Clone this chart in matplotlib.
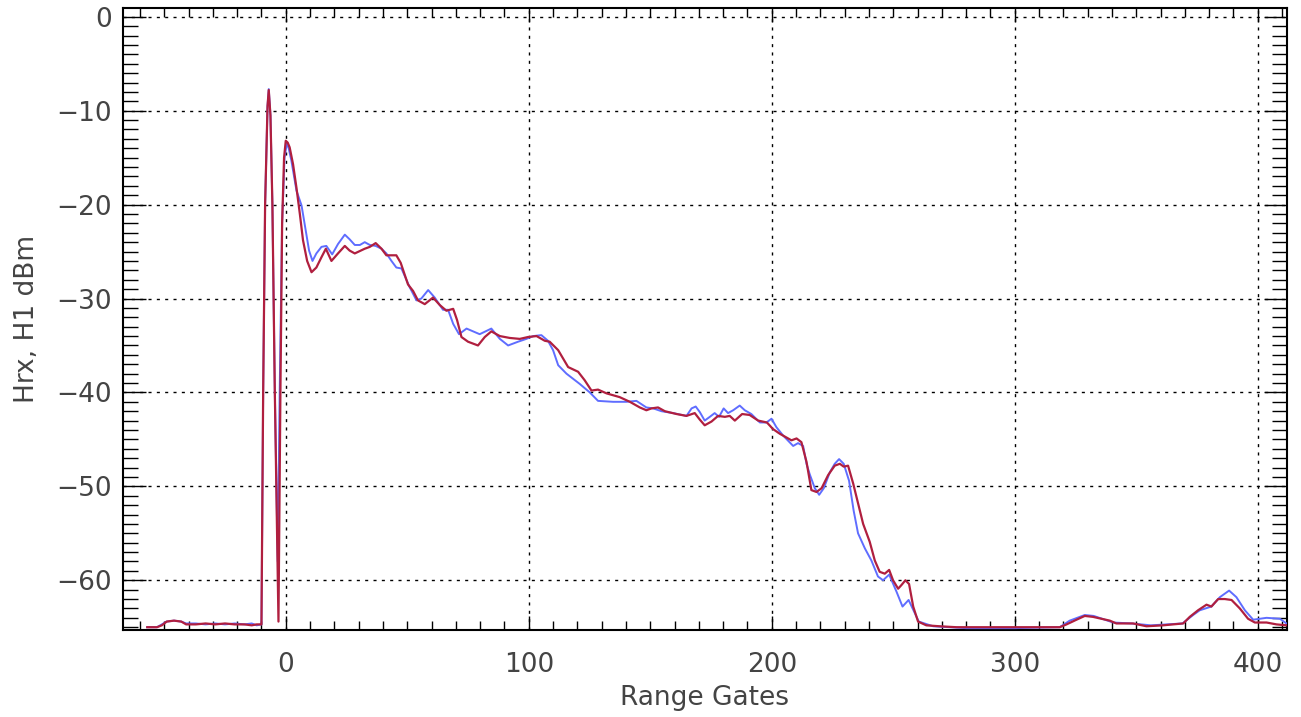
import matplotlib
matplotlib.use('Agg')
import matplotlib.pyplot as plt
from matplotlib.ticker import MultipleLocator, FuncFormatter

# Two receiver traces (range gate, dBm)
gates_blue = [-57, -53, -51, -49, -46, -43, -41, -37, -33, -29, -25, -21, -17,
              -14, -12, -10, -9.3, -8.5, -7.5, -7.0, -6.3, -5.5, -4.5, -3.3,
              -2.5, -1.5, -0.5, 0.5, 1.2, 2.3, 4.4, 6.5, 7.8, 9.6, 11.0, 12.6,
              14.7, 16.7, 19.1, 21.5, 24.3, 26.3, 28.4, 30.5, 32.5, 34.6, 37.0,
              39.4, 41.4, 43.5, 45.5, 47.6, 51.0, 53.8, 55.8, 58.6, 61.3, 64.7,
              66.8, 68.9, 71.3, 74.4, 79.8, 84.6, 88.1, 91.5, 95.6, 99.0, 101.8,
              105.2, 107.9, 110.0, 112.1, 115.5, 121.0, 125.1, 128.5, 134.7,
              140.2, 144.3, 148.4, 151.2, 154.6, 159.4, 164.9, 167.0, 168.7,
              170.4, 172.4, 174.5, 176.5, 178.3, 180.2, 182.0, 184.1, 186.8,
              188.9, 191.6, 195.1, 197.8, 199.9, 201.9, 204.7, 208.8, 210.8,
              212.9, 214.3, 215.6, 217.7, 219.5, 221.4, 223.9, 225.9, 227.7,
              229.6, 231.8, 233.7, 235.5, 238.3, 241.0, 243.7, 245.8, 248.3,
              251.3, 253.8, 256.3, 258.5, 260.5, 266.4, 280, 300, 318.5, 322.6,
              328.8, 332.5, 340.5, 348, 356, 369, 373.4, 376.1, 380.9, 384.4,
              388.2, 391.2, 394.7, 398.1, 400.8, 403.6, 409.1, 411.8]
hrx_blue = [-65.0, -65.0, -64.7, -64.4, -64.3, -64.4, -64.6, -64.6, -64.7,
            -64.6, -64.7, -64.6, -64.7, -64.6, -64.8, -64.7, -40, -20, -9.5,
            -7.7, -10.5, -20, -40, -58, -40, -22, -15, -13.4, -14.0, -15.3,
            -18.5, -20.1, -22.1, -24.9, -26.0, -25.2, -24.5, -24.4, -25.3,
            -24.2, -23.2, -23.7, -24.3, -24.3, -24.0, -24.3, -24.4, -24.7,
            -25.2, -26.0, -26.7, -26.8, -28.8, -30.2, -30.0, -29.1, -29.9,
            -31.2, -31.2, -32.7, -33.8, -33.2, -33.8, -33.2, -34.3, -35.0,
            -34.6, -34.3, -34.0, -33.9, -34.5, -35.5, -37.1, -38.0, -39.1,
            -40.0, -40.9, -41.0, -41.0, -40.9, -41.6, -41.7, -42.0, -42.2,
            -42.5, -41.7, -41.5, -42.1, -43.0, -42.6, -42.2, -42.6, -41.7,
            -42.2, -41.9, -41.4, -41.9, -42.3, -43.2, -43.2, -42.8, -43.7,
            -44.6, -45.7, -45.4, -45.7, -47.6, -48.7, -50.2, -50.9, -50.2,
            -48.5, -47.6, -47.1, -47.6, -49.4, -52.6, -55.0, -56.6, -57.9,
            -59.6, -60.0, -59.4, -61.2, -62.8, -62.1, -63.3, -64.4, -64.9,
            -65.1, -65.1, -65.0, -64.3, -63.7, -63.8, -64.5, -64.6, -64.8,
            -64.6, -63.7, -63.2, -62.8, -61.8, -61.1, -61.8, -63.2, -64.2,
            -64.1, -64.0, -64.1, -64.6]

gates_red = [-57, -53, -51, -49, -46, -43, -41, -37, -33, -29, -25, -21, -17,
             -14, -12, -10, -9.3, -8.5, -7.5, -7.0, -6.3, -5.5, -4.5, -3.0,
             -2.2, -1.5, -0.7, 0.0, 0.8, 1.6, 3.0, 4.4, 5.8, 7.1, 8.8, 10.6,
             12.6, 14.7, 16.5, 18.8, 21.5, 24.3, 26.3, 28.4, 32.5, 34.6, 37.0,
             39.4, 41.4, 43.5, 45.5, 47.3, 50.3, 52.4, 54.4, 57.2, 60.6, 63.4,
             66.1, 68.9, 70.5, 72.3, 75.0, 79.1, 81.9, 84.6, 88.1, 92.2, 96.3,
             99.7, 103.2, 106.6, 108.6, 112.1, 116.2, 120.3, 123.0, 125.8,
             128.5, 132.0, 137.4, 141.6, 145.7, 148.4, 150.5, 153.2, 156.0,
             160.8, 164.9, 168.3, 170.4, 172.4, 175.2, 177.9, 180.7, 182.7,
             184.8, 187.8, 190.9, 194.4, 198.0, 200.5, 203.3, 206.0, 208.1,
             210.2, 212.2, 214.3, 216.3, 218.4, 220.5, 223.2, 225.9, 228.0,
             229.6, 231.4, 233.5, 235.5, 237.6, 240.3, 242.4, 244.4, 246.5,
             248.3, 249.9, 252.0, 253.4, 255.0, 256.5, 258.2, 260.2, 263.6,
             269.1, 276, 287, 300.7, 318.5, 321.3, 325.4, 328.8, 332.2, 339.1,
             341.8, 348.7, 354.2, 361.0, 369.3, 372.0, 375.4, 378.9, 380.9,
             383.7, 386.4, 389.2, 392.6, 396.0, 398.8, 403.6, 407.7, 411.8]
hrx_red = [-65.0, -65.0, -64.8, -64.4, -64.3, -64.4, -64.7, -64.7, -64.6,
           -64.7, -64.6, -64.7, -64.7, -64.8, -64.7, -64.7, -40, -20, -9.5,
           -7.8, -10.5, -20, -40, -64.4, -40, -22, -15, -13.2, -13.4, -13.9,
           -15.7, -18.2, -21.0, -23.8, -26.0, -27.2, -26.7, -25.6, -24.7,
           -26.0, -25.2, -24.4, -24.9, -25.2, -24.7, -24.5, -24.1, -24.7,
           -25.4, -25.4, -25.4, -26.2, -28.5, -29.2, -30.2, -30.6, -29.9,
           -30.7, -31.3, -31.1, -32.3, -34.1, -34.6, -35.0, -34.1, -33.5,
           -34.0, -34.2, -34.3, -34.1, -34.0, -34.5, -34.6, -35.5, -37.3,
           -37.8, -38.7, -39.8, -39.7, -40.1, -40.5, -41.0, -41.6, -41.9,
           -41.7, -41.6, -42.0, -42.3, -42.5, -42.2, -42.9, -43.5, -43.1,
           -42.5, -42.6, -42.5, -43.0, -42.3, -42.4, -43.0, -43.2, -43.9,
           -44.4, -44.8, -45.1, -44.9, -45.3, -47.4, -50.4, -50.6, -50.2,
           -48.8, -47.8, -47.6, -47.9, -47.8, -49.7, -51.8, -54.0, -55.9,
           -57.9, -59.1, -59.3, -58.9, -60.0, -60.9, -60.5, -60.0, -60.4,
           -62.8, -64.4, -64.8, -64.9, -65.0, -65.0, -65.0, -65.0, -64.7,
           -64.2, -63.8, -63.9, -64.3, -64.6, -64.6, -64.9, -64.8, -64.6,
           -63.9, -63.2, -62.6, -62.8, -62.0, -62.0, -62.1, -63.0, -64.1,
           -64.5, -64.5, -64.7, -64.8]

BLUE = '#5f6dff'
RED = '#b01f3f'
TEXT_GREY = '#444444'

plt.rcParams['font.family'] = ['DejaVu Sans']

fig = plt.figure(figsize=(13.01, 7.17), dpi=100)
ax = fig.add_axes([0.0945, 0.1213, 0.8947, 0.8675])

ax.plot(gates_blue, hrx_blue, color=BLUE, linewidth=1.4, zorder=3)
ax.plot(gates_red, hrx_red, color=RED, linewidth=1.6, zorder=4)

ax.set_xlim(-67, 412)
ax.set_ylim(-65.3, 0.93)

ax.xaxis.set_major_locator(MultipleLocator(100))
ax.xaxis.set_minor_locator(MultipleLocator(10))
ax.yaxis.set_major_locator(MultipleLocator(10))
ax.yaxis.set_minor_locator(MultipleLocator(1))
ax.yaxis.set_major_formatter(FuncFormatter(
    lambda v, p: ('\u2212' + '%d' % abs(v)) if v < 0 else '%d' % v))

ax.tick_params(axis='both', which='both', direction='in',
               top=True, right=True, colors='black',
               labelcolor=TEXT_GREY, labelsize=19, width=1.0)
ax.tick_params(axis='x', which='major', length=10, pad=16)
ax.tick_params(axis='x', which='minor', length=6.5)
ax.tick_params(axis='y', which='major', length=16.5, pad=8)
ax.tick_params(axis='y', which='minor', length=11)

for side in ax.spines.values():
    side.set_linewidth(1.5)
    side.set_color('black')

ax.grid(True, which='major', color='black', linestyle=(0, (2.2, 3.8)),
        linewidth=1.0, zorder=1)

ax.set_xlabel('Range Gates', fontsize=19, color=TEXT_GREY, labelpad=5)
ax.set_ylabel('Hrx, H1 dBm', fontsize=19, color=TEXT_GREY, labelpad=12)

fig.savefig('out.png', dpi=100)
